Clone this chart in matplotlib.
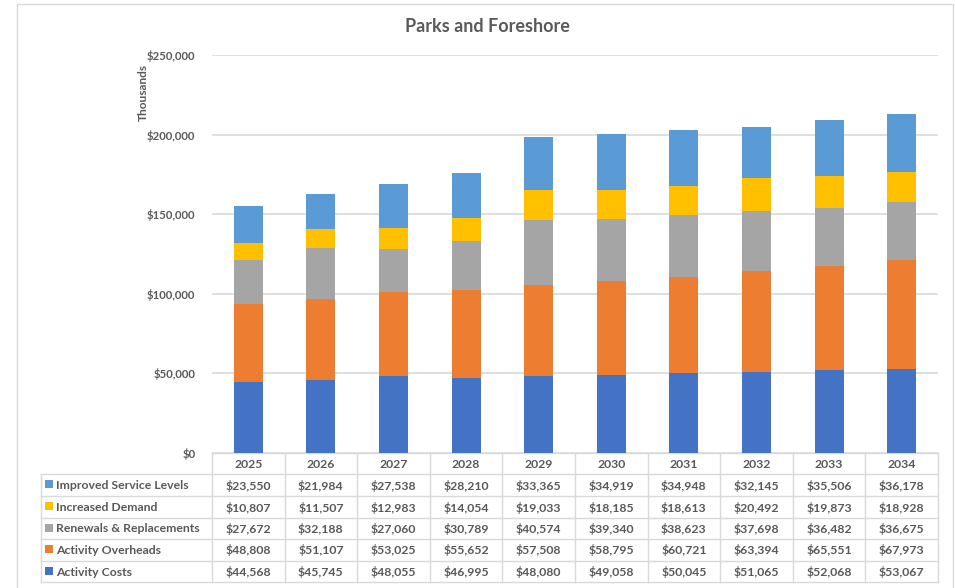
import matplotlib.pyplot as plt
from matplotlib.patches import Rectangle
from matplotlib.ticker import FuncFormatter

plt.rcParams['font.family'] = ['Lato', 'DejaVu Sans']

years = ['2025', '2026', '2027', '2028', '2029', '2030', '2031', '2032', '2033', '2034']
activity_costs = [44568, 45745, 48055, 46995, 48080, 49058, 50045, 51065, 52068, 53067]
activity_overheads = [48808, 51107, 53025, 55652, 57508, 58795, 60721, 63394, 65551, 67973]
renewals = [27672, 32188, 27060, 30789, 40574, 39340, 38623, 37698, 36482, 36675]
increased_demand = [10807, 11507, 12983, 14054, 19033, 18185, 18613, 20492, 19873, 18928]
improved_service = [23550, 21984, 27538, 28210, 33365, 34919, 34948, 32145, 35506, 36178]

# bottom-to-top stacking order
series = [
    ('Activity Costs', activity_costs, '#4472C4'),
    ('Activity Overheads', activity_overheads, '#ED7D31'),
    ('Renewals & Replacements', renewals, '#A5A5A5'),
    ('Increased Demand', increased_demand, '#FFC000'),
    ('Improved Service Levels', improved_service, '#5B9BD5'),
]

W, H = 955, 588
TXT = '#595959'
GRID = '#D9D9D9'

fig = plt.figure(figsize=(W / 100, H / 100), dpi=100)

# pixel-space overlay for frame, table and labels
ov = fig.add_axes([0, 0, 1, 1])
ov.set_xlim(0, W)
ov.set_ylim(H, 0)
ov.axis('off')
ov.add_patch(Rectangle((17, 4), 936, 600, fill=False, ec=GRID, lw=1))

x0, x1 = 212, 938
y_top, y_zero = 55, 453
ax = fig.add_axes([x0 / W, (H - y_zero) / H, (x1 - x0) / W, (y_zero - y_top) / H])

bottom = [0] * len(years)
for name, vals, col in series:
    ax.bar(range(len(years)), vals, width=0.4, bottom=bottom, color=col, zorder=3)
    bottom = [b + v for b, v in zip(bottom, vals)]

ax.set_xlim(-0.5, len(years) - 0.5)
ax.set_ylim(0, 250000)
ax.set_yticks(range(0, 250001, 50000))
ax.yaxis.set_major_formatter(FuncFormatter(lambda v, p: f'${v:,.0f}'))
ax.grid(axis='y', color=GRID, lw=1.2, zorder=0)
ax.set_xticks([])
ax.tick_params(axis='y', length=0, pad=12, labelsize=8.2, labelcolor=TXT)
for lab in ax.get_yticklabels():
    lab.set_fontweight('bold')
for s in ax.spines.values():
    s.set_visible(False)

ov.text(487, 26, 'Parks and Foreshore', ha='center', va='center',
        fontsize=13, fontweight='bold', color=TXT)
ov.text(143, 92, 'Thousands', rotation=90, ha='center', va='center',
        fontsize=8.6, fontweight='bold', color=TXT)

# data table under the plot
col_w = (x1 - x0) / len(years)
row_edges = [453, 474, 496, 518, 539, 561, 582]
lab_x0 = 41
lw_t = 1.0
fs_t = 8.8

# header row
ov.plot([x0, x1], [row_edges[0], row_edges[0]], color=GRID, lw=lw_t)
for i, y in enumerate(years):
    ov.text(x0 + (i + 0.5) * col_w, (row_edges[0] + row_edges[1]) / 2 + 1, y,
            ha='center', va='center', fontsize=fs_t, fontweight='bold', color=TXT)

for r in range(1, len(row_edges)):
    ov.plot([lab_x0, x1], [row_edges[r], row_edges[r]], color=GRID, lw=lw_t)
for i in range(len(years) + 1):
    ov.plot([x0 + i * col_w] * 2, [row_edges[0], row_edges[-1]], color=GRID, lw=lw_t)
ov.plot([lab_x0, lab_x0], [row_edges[1], row_edges[-1]], color=GRID, lw=lw_t)

for r, (name, vals, col) in enumerate(reversed(series)):
    yc = (row_edges[r + 1] + row_edges[r + 2]) / 2
    ov.add_patch(Rectangle((45, yc - 5), 8, 8, color=col, lw=0))
    ov.text(56, yc + 0.5, name, ha='left', va='center', fontsize=fs_t, fontweight='bold', color=TXT)
    for i, v in enumerate(vals):
        ov.text(x0 + (i + 0.5) * col_w, yc + 0.5, f'${v:,.0f}', ha='center', va='center',
                fontsize=fs_t, fontweight='bold', color=TXT)

fig.savefig('out.png', dpi=100, facecolor='white')
